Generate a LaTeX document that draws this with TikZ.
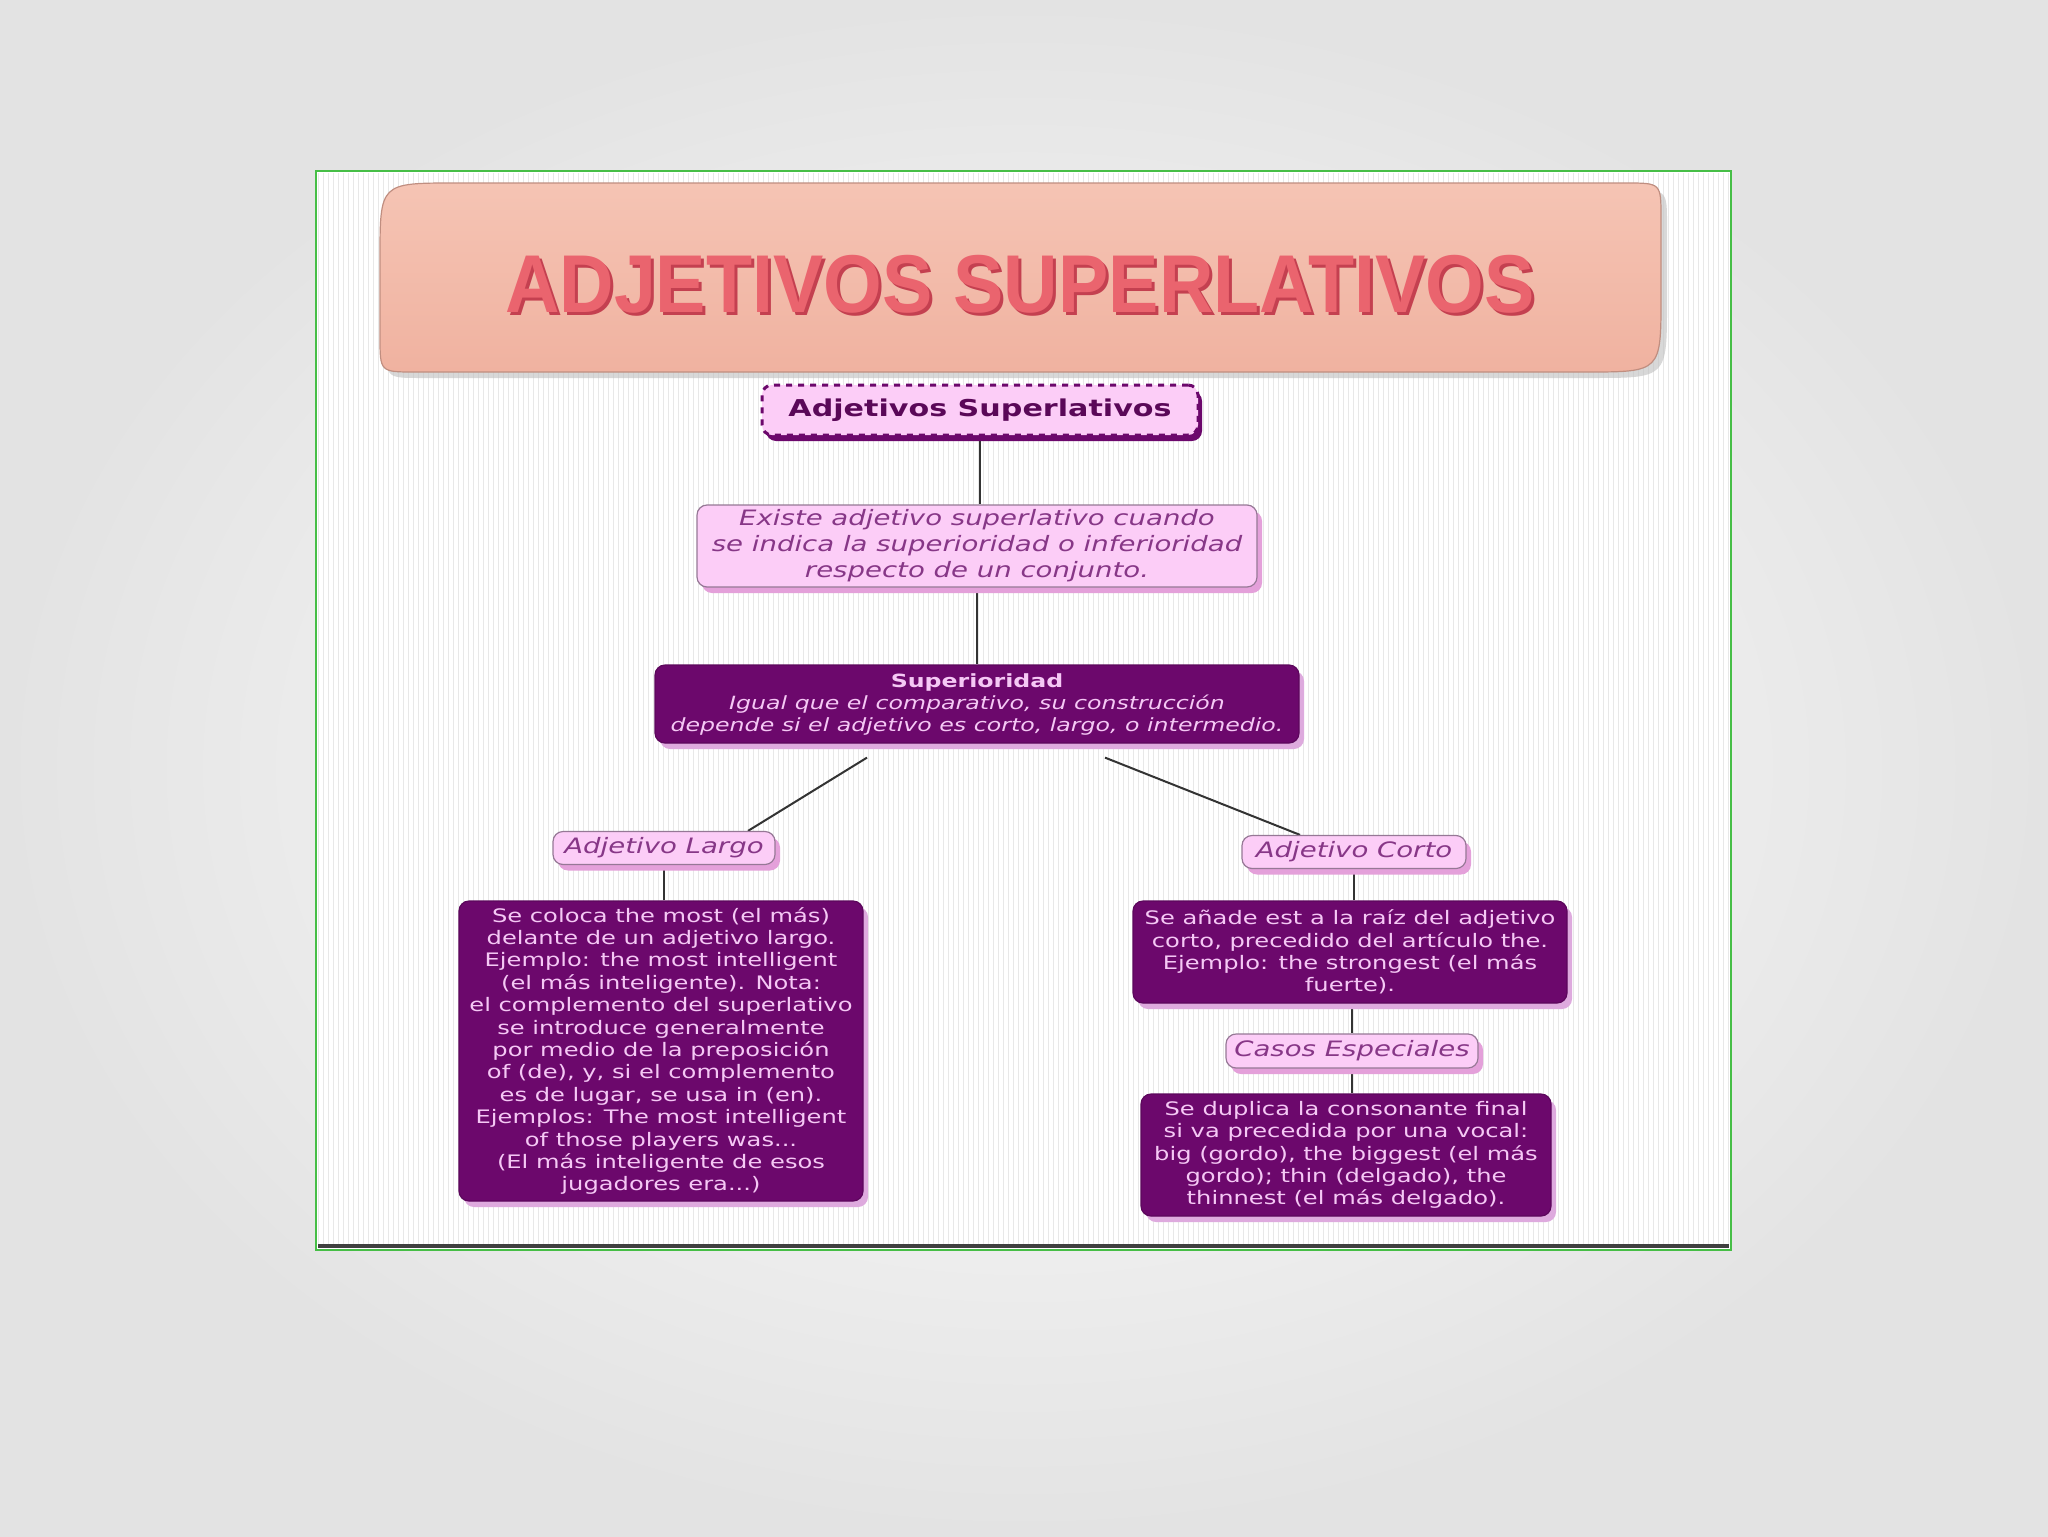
\documentclass[tikz,border=0pt]{standalone}
\usepackage{fontspec}
\setmainfont{DejaVu Sans}
\newfontfamily\dv[FakeStretch=1.3]{DejaVu Sans}
\newfontfamily\ttl[FakeStretch=0.92]{Liberation Sans}
\usetikzlibrary{shadows,calc}
\pgfdeclarelayer{back}
\pgfdeclarelayer{bg}
\pgfsetlayers{back,bg,main}
\definecolor{dkfill}{RGB}{108,8,108}
\definecolor{dktext}{RGB}{245,200,245}
\definecolor{dkshadow}{RGB}{222,170,222}
\definecolor{lnfill}{RGB}{252,205,247}
\definecolor{lnborder}{RGB}{150,120,150}
\definecolor{lnshadow}{RGB}{228,160,218}
\definecolor{lntext}{RGB}{135,55,135}
\definecolor{toptext}{RGB}{90,8,88}
\definecolor{titlered}{RGB}{234,100,110}
\definecolor{titledark}{RGB}{196,64,80}
\definecolor{bantop}{RGB}{245,196,180}
\definecolor{banbot}{RGB}{240,178,160}
\definecolor{framegreen}{RGB}{70,190,70}
\tikzset{
  conn/.style={draw=black!80,line width=1pt},
  stripe/.style={draw=black!9,line width=0.45pt},
  lightnode/.style={draw=lnborder,fill=lnfill,rounded corners=5pt,line width=0.6pt,
    text=lntext,align=center,inner sep=2pt,
    drop shadow={shadow xshift=2.5pt,shadow yshift=-3pt,fill=lnshadow,opacity=1}},
  darknode/.style={draw=dkfill!85!black,fill=dkfill,rounded corners=5pt,line width=0.6pt,
    text=dktext,align=center,inner sep=2pt,
    font={\dv\fontsize{9.3}{11.2}\selectfont},
    drop shadow={shadow xshift=2.5pt,shadow yshift=-3pt,fill=dkshadow,opacity=1}},
  labelnode/.style={lightnode,font={\dv\itshape\fontsize{10.6}{12}\selectfont}},
}
\begin{document}
\begin{tikzpicture}[x=0.5pt,y=-0.5pt]
\useasboundingbox (0,0) rectangle (2048,1536);
\begin{pgfonlayer}{back}
% page background
\shade[inner color=white,outer color=black!11] (0,0) rectangle (2048,1536);
% panel
\fill[white] (316,171) rectangle (1731,1250);
\foreach \x in {318,323,...,1728} {\draw[stripe] (\x,173) -- (\x,1246);}
\draw[black!75,line width=1.6pt] (318,1246) -- (1729,1246);
\draw[framegreen,line width=1pt] (316,171) rectangle (1731,1250);
% title banner
\fill[black!25,opacity=0.6] (461,190) -- (1632,190) .. controls (1667,190) .. (1667,225) -- (1667,303) .. controls (1667,378) .. (1592,378) -- (421,378) .. controls (386,378) .. (386,343) -- (386,265) .. controls (386,190) .. (461,190) -- cycle;
\shade[top color=bantop,bottom color=banbot,draw=banbot!80!black,line width=0.6pt]
  (455,183) -- (1626,183) .. controls (1661,183) .. (1661,218) -- (1661,297) .. controls (1661,372) .. (1586,372) -- (415,372) .. controls (380,372) .. (380,337) -- (380,258) .. controls (380,183) .. (455,183) -- cycle;
\end{pgfonlayer}
\node[font={\ttl\bfseries\fontsize{41}{41}\selectfont},text=titledark] (titleshadow) at (1023,287) {ADJETIVOS SUPERLATIVOS};
\node[font={\ttl\bfseries\fontsize{41}{41}\selectfont},text=titlered] (title) at (1020,284) {ADJETIVOS SUPERLATIVOS};
% nodes
\node[draw=dkfill,dashed,line width=1.5pt,fill=lnfill,rounded corners=5pt,text=toptext,
  minimum width=218pt,minimum height=25pt,inner sep=2pt,
  font={\dv\bfseries\fontsize{11.6}{13}\selectfont},
  drop shadow={shadow xshift=2pt,shadow yshift=-3pt,fill=dkfill,opacity=1}]
  (top) at (980,410) {Adjetivos Superlativos};
\node[lightnode,minimum width=280pt,minimum height=41pt,
  font={\dv\itshape\fontsize{10.6}{13}\selectfont}]
  (existe) at (977,546) {Existe adjetivo superlativo cuando\\se indica la superioridad o inferioridad\\respecto de un conjunto.};
\node[darknode,minimum width=322pt,minimum height=39pt,font={\dv\fontsize{9.1}{11}\selectfont}]
  (sup) at (977,704) {{\bfseries Superioridad}\\{\itshape Igual que el comparativo, su construcción}\\{\itshape depende si el adjetivo es corto, largo, o intermedio.}};
\node[labelnode,minimum width=111pt,minimum height=16.5pt] (largo) at (664,848) {Adjetivo Largo};
\node[labelnode,minimum width=112pt,minimum height=16.5pt] (corto) at (1354,852) {Adjetivo Corto};
\node[darknode,minimum width=202pt,minimum height=150pt] (leftbox) at (661,1051)
  {Se coloca the most (el más)\\delante de un adjetivo largo.\\Ejemplo: the most intelligent\\(el más inteligente). Nota:\\el complemento del superlativo\\se introduce generalmente\\por medio de la preposición\\of (de), y, si el complemento\\es de lugar, se usa in (en).\\Ejemplos: The most intelligent\\of those players was...\\(El más inteligente de esos\\jugadores era...)};
\node[darknode,minimum width=217pt,minimum height=51pt] (rb1) at (1350,952)
  {Se añade est a la raíz del adjetivo\\corto, precedido del artículo the.\\Ejemplo: the strongest (el más\\fuerte).};
\node[labelnode,minimum width=126pt,minimum height=17pt] (casos) at (1352,1051) {Casos Especiales};
\node[darknode,minimum width=205pt,minimum height=61pt] (rb2) at (1346,1155)
  {Se duplica la consonante final\\si va precedida por una vocal:\\big (gordo), the biggest (el más\\gordo); thin (delgado), the\\thinnest (el más delgado).};
% connectors
\begin{pgfonlayer}{bg}
\draw[conn] (top.south) -- (top.south |- existe.north);
\draw[conn] (existe.south) -- (existe.south |- sup.north);
\draw[conn] ([xshift=-55pt,yshift=-7pt]sup.south) -- ([xshift=42pt]largo.north);
\draw[conn] ([xshift=64pt,yshift=-7pt]sup.south) -- ([xshift=-27pt]corto.north);
\draw[conn] (largo.south) -- (largo.south |- leftbox.north);
\draw[conn] (corto.south) -- (corto.south |- rb1.north);
\draw[conn] (casos.north |- rb1.south) -- (casos.north);
\draw[conn] (casos.south) -- (casos.south |- rb2.north);
\end{pgfonlayer}
\end{tikzpicture}
\end{document}
